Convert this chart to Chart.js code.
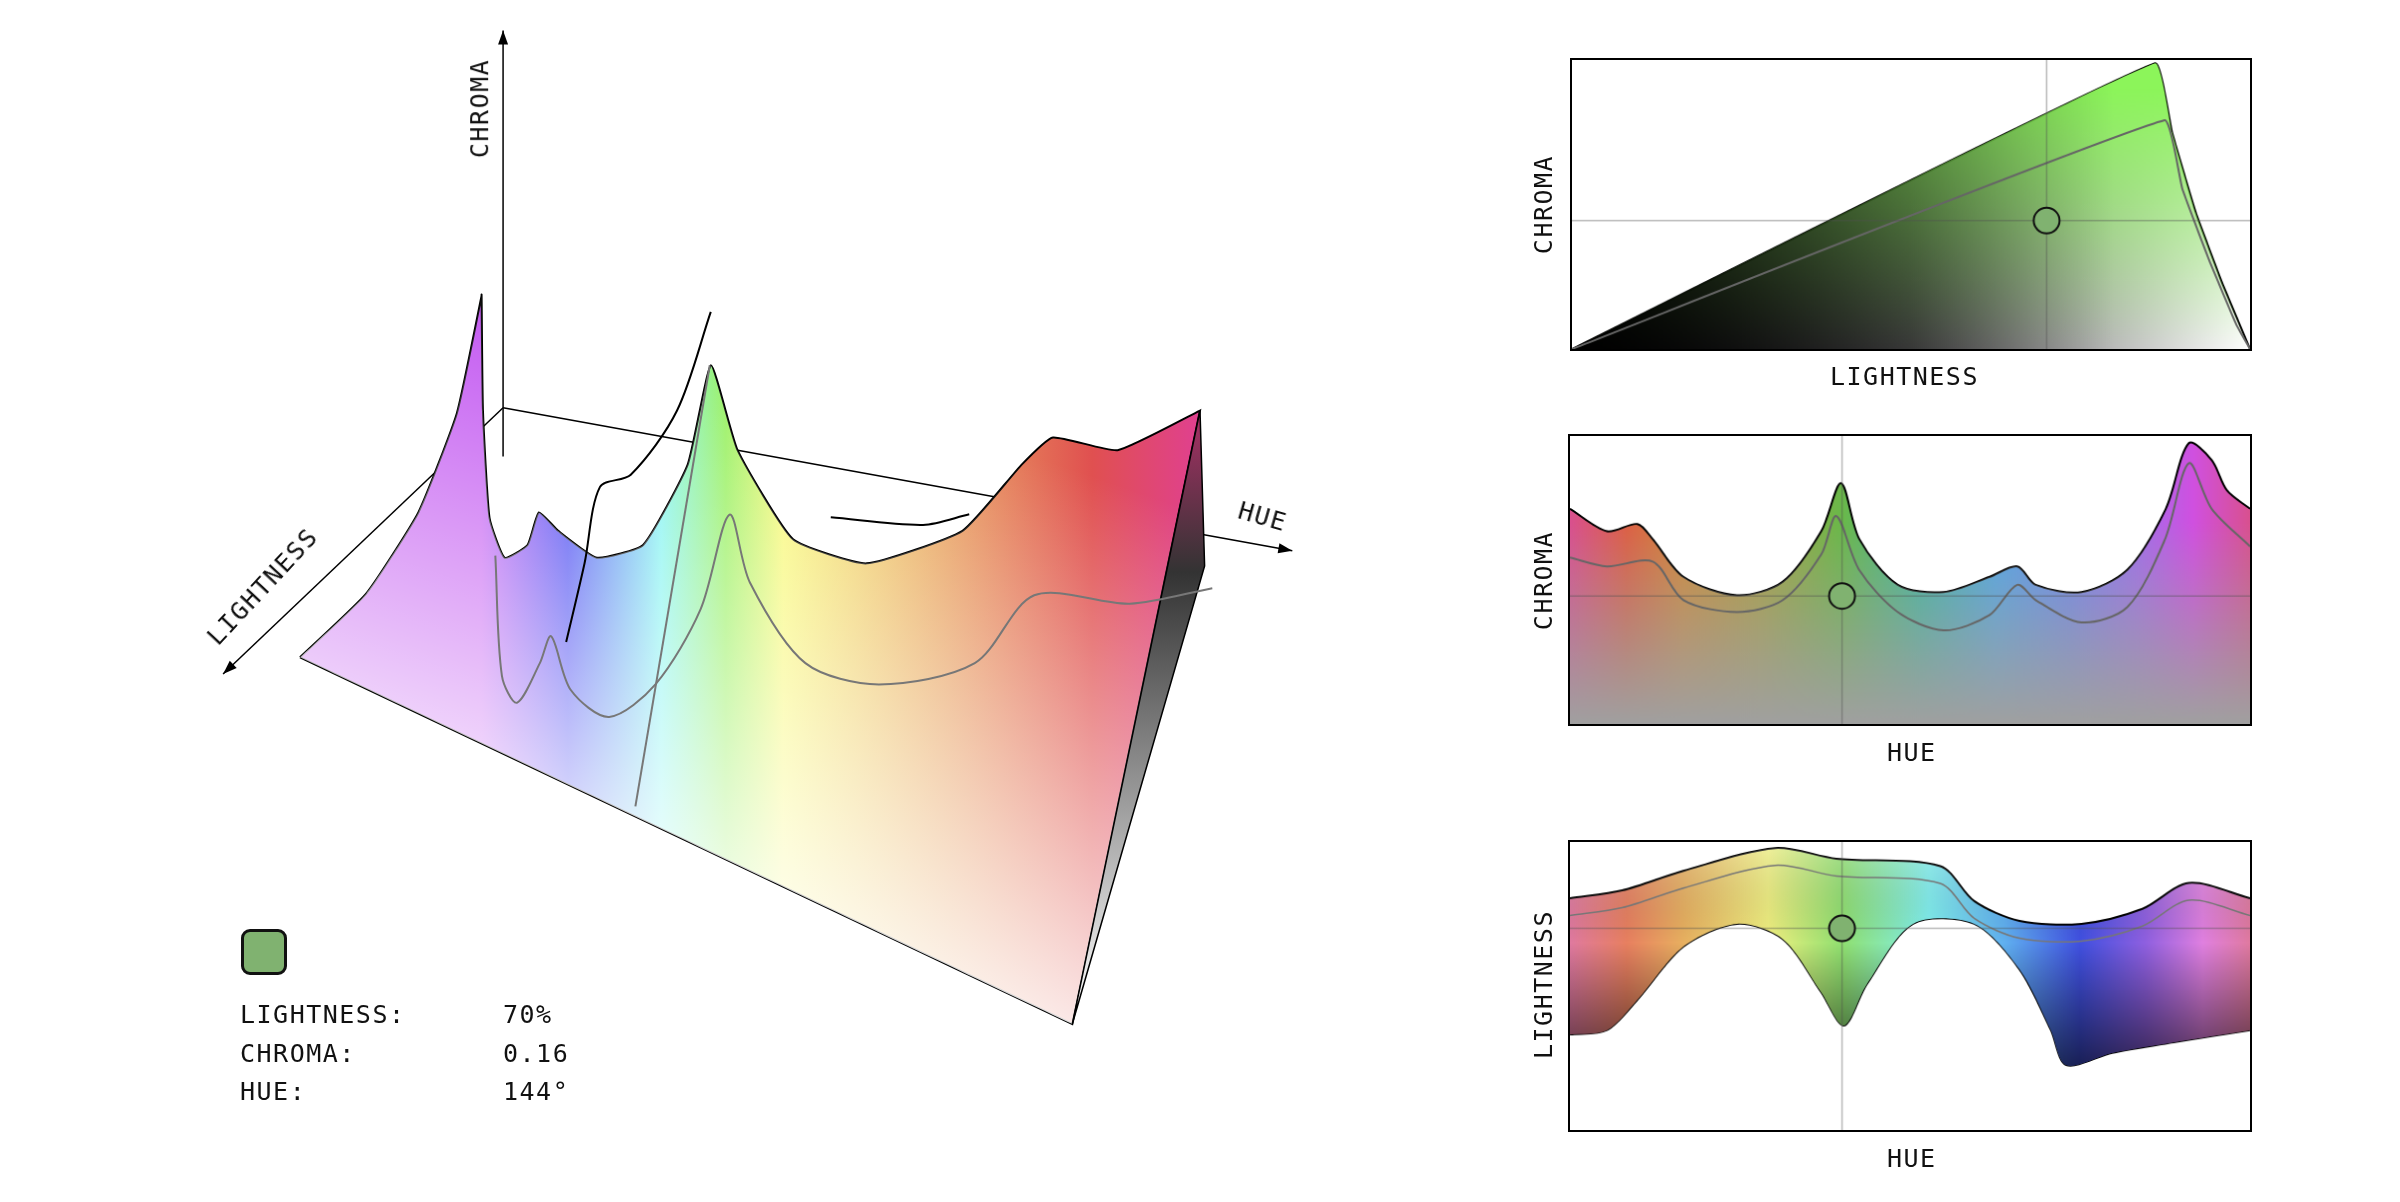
<!DOCTYPE html>
<html><head><meta charset="utf-8">
<script src="https://cdn.jsdelivr.net/npm/chart.js@4"></script>
<style>
body{margin:0;background:#fff;width:2400px;height:1202px;overflow:hidden;position:relative;font-family:"DejaVu Sans Mono",monospace;}
canvas{position:absolute;}
.t{position:absolute;font-size:25px;letter-spacing:1.5px;color:#111;white-space:nowrap;transform-origin:center center;}
.box{border:2px solid #000;box-sizing:border-box;}
</style></head><body>
<canvas id="c3d" width="2400" height="1202" style="left:0;top:0"></canvas>
<canvas id="p1" class="box" width="682" height="293" style="left:1570px;top:58px"></canvas>
<canvas id="p2" class="box" width="684" height="292" style="left:1568px;top:434px"></canvas>
<canvas id="p3" class="box" width="684" height="292" style="left:1568px;top:840px"></canvas>
<div class="t" style="left:1830px;top:362px">LIGHTNESS</div>
<div class="t" style="left:1887px;top:738px">HUE</div>
<div class="t" style="left:1887px;top:1144px">HUE</div>
<div class="t" style="left:1494px;top:190px;transform:rotate(-90deg)">CHROMA</div>
<div class="t" style="left:1494px;top:566px;transform:rotate(-90deg)">CHROMA</div>
<div class="t" style="left:1469px;top:970px;transform:rotate(-90deg)">LIGHTNESS</div>
<div class="t" style="left:430px;top:94px;transform:rotate(-90deg)">CHROMA</div>
<div class="t" style="left:188px;top:572px;transform:rotate(-47deg)">LIGHTNESS</div>
<div class="t" style="left:1238px;top:502px;transform:rotate(16deg)">HUE</div>
<div style="position:absolute;left:241px;top:929px;width:46px;height:46px;border:3px solid #111;border-radius:9px;background:#80b270;box-sizing:border-box"></div>
<div class="t" style="left:240px;top:1000px">LIGHTNESS:</div>
<div class="t" style="left:240px;top:1039px">CHROMA:</div>
<div class="t" style="left:240px;top:1077px">HUE:</div>
<div class="t" id="vL" style="left:503px;top:1000px"></div>
<div class="t" id="vC" style="left:503px;top:1039px"></div>
<div class="t" id="vH" style="left:503px;top:1077px"></div>
<script>
// ---- data ----
const selLightness = 0.70, selChroma = 0.16, selHue = 144;
const maxHue    = [0,19.5,35.7,43.8,60,88.4,112.7,133,143.5,153.2,173.5,197.8,222.2,236.8,246.5,270.8,295.1,315.4,327.6,339.7,347.8,360];
const maxChroma = [0.269,0.241,0.250,0.231,0.184,0.161,0.178,0.241,0.301,0.231,0.174,0.165,0.184,0.197,0.174,0.165,0.193,0.269,0.351,0.330,0.292,0.269];
const sliceHue    = [0,19.5,43.8,60,88.4,112.7,133,141,153,173.5,197.8,222,236.8,246.5,270.8,295,315,327.6,339.7,360];
const sliceChroma = [0.208,0.197,0.203,0.155,0.140,0.155,0.212,0.260,0.193,0.140,0.117,0.136,0.174,0.155,0.127,0.146,0.231,0.326,0.269,0.222];
const upHue   = [0,27.6,60,108.6,141,196,214,238,270.8,303,327.6,360];
const upL     = [0.805,0.832,0.90,0.979,0.942,0.916,0.795,0.726,0.716,0.768,0.858,0.805];
const lowHue  = [0,19.5,35.7,60,88.4,112.7,133,145,157,181.6,214,238,254.6,262.7,287,319.5,360];
const lowL    = [0.332,0.347,0.453,0.637,0.716,0.663,0.479,0.363,0.505,0.716,0.716,0.558,0.347,0.226,0.268,0.305,0.347];
const gamutL = [0,0.86,0.885,0.92,0.96,1];
const gamutC = [0,0.356,0.27,0.17,0.08,0];
const innerL = [0,0.874,0.9,0.94,0.98,1];
const innerC = [0,0.285,0.2,0.11,0.03,0];
const chromaMax = 0.36;

document.getElementById('vL').textContent = Math.round(selLightness*100)+'%';
document.getElementById('vC').textContent = selChroma.toFixed(2);
document.getElementById('vH').textContent = selHue+'°';

const pts=(xs,ys)=>xs.map((x,i)=>({x,y:ys[i]}));
function grad(chart,x0,y0,x1,y1,stops){
  const {ctx,chartArea}=chart; if(!chartArea) return 'transparent';
  const g=ctx.createLinearGradient(x0,y0,x1,y1); stops.forEach(s=>g.addColorStop(s[0],s[1])); return g;
}
const hueStops2=[[0,'#d9508f'],[30/360,'#dd6045'],[60/360,'#d08a3a'],[100/360,'#aaa040'],[144/360,'#6ab84a'],[185/360,'#40b8a0'],[225/360,'#50a8e8'],[265/360,'#7088f0'],[300/360,'#a070ea'],[330/360,'#d050e0'],[1,'#d9508f']];
const hueStops3=[[0,'#e07aa0'],[30/360,'#e88060'],[60/360,'#e8b060'],[105/360,'#f0f080'],[144/360,'#90e070'],[190/360,'#80f0f0'],[230/360,'#60b0f0'],[270/360,'#4050e0'],[305/360,'#9060e0'],[335/360,'#e080e0'],[1,'#e07aa0']];
const base={responsive:false,devicePixelRatio:1,animation:false,events:[],
  layout:{padding:0,autoPadding:false},plugins:{legend:{display:false},tooltip:{enabled:false}},elements:{point:{radius:0},line:{tension:0.3}}};
const hid=(min,max,rev)=>({type:'linear',display:false,min,max,reverse:!!rev});
const line=(data,color,w,extra)=>Object.assign({data,showLine:true,borderColor:color,borderWidth:w,fill:false,pointRadius:0,clip:false},extra||{});
const marker=(x,y)=>({data:[{x,y}],showLine:false,pointRadius:13,backgroundColor:'#80b270',borderColor:'#111',borderWidth:2,order:0});
const cross=(xr,yr,x,y)=>[line([{x,y:yr[0]},{x,y:yr[1]}],'rgba(80,80,80,0.4)',1.5,{tension:0,order:1}),line([{x:xr[0],y},{x:xr[1],y}],'rgba(80,80,80,0.4)',1.5,{tension:0,order:1})];

// Panel 1: chroma vs lightness at selected hue
new Chart(document.getElementById('p1'),{type:'scatter',data:{datasets:[
  line(pts(gamutL,gamutC),'#000',2,{tension:0.1,order:6,fill:'origin',backgroundColor:c=>grad(c.chart,0,0,c.chart.width,0,[[0,'#000'],[0.5,'#555'],[1,'#fff']])}),
  line(pts(gamutL,gamutC),'rgba(0,0,0,0)',0,{tension:0.1,order:5,fill:'origin',backgroundColor:c=>grad(c.chart,0,c.chart.height,0,c.chart.height*0.1,[[0,'rgba(140,245,90,0)'],[1,'rgba(140,245,90,1)']])}),
  line(pts(gamutL,gamutC),'rgba(0,0,0,0)',0,{tension:0.1,order:4,fill:'origin',backgroundColor:c=>grad(c.chart,0,0,c.chart.width*0.8,0,[[0,'rgba(0,0,0,0.9)'],[0.5,'rgba(0,0,0,0.45)'],[1,'rgba(0,0,0,0)']])}),
  line(pts(innerL,innerC),'#666',2,{tension:0.1,order:2}),
  ...cross([0,1],[0,chromaMax],selLightness,selChroma),
  marker(selLightness,selChroma)
]},options:Object.assign({},base,{scales:{x:hid(0,1),y:hid(0,chromaMax)}})});

// Panel 2: max chroma vs hue
new Chart(document.getElementById('p2'),{type:'scatter',data:{datasets:[
  line(pts(maxHue,maxChroma),'#000',2,{order:4,fill:'origin',backgroundColor:c=>grad(c.chart,0,0,c.chart.width,0,hueStops2)}),
  line(pts(maxHue,maxChroma),'rgba(0,0,0,0)',0,{order:3,fill:'origin',backgroundColor:c=>grad(c.chart,0,c.chart.height*0.3,0,c.chart.height,[[0,'rgba(160,160,160,0)'],[1,'rgba(160,160,160,1)']])}),
  line(pts(sliceHue,sliceChroma),'#666',2,{order:2}),
  ...cross([0,360],[0,chromaMax],selHue,selChroma),
  marker(selHue,selChroma)
]},options:Object.assign({},base,{scales:{x:hid(0,360),y:hid(0,chromaMax)}})});

// Panel 3: lightness band vs hue
new Chart(document.getElementById('p3'),{type:'scatter',data:{datasets:[
  line(pts(upHue,upL),'#000',2,{order:5,fill:'+1',backgroundColor:c=>grad(c.chart,0,0,c.chart.width,0,hueStops3)}),
  line(pts(lowHue,lowL),'#000',2,{order:5}),
  line(pts(upHue,upL),'rgba(0,0,0,0)',0,{order:4,fill:'+1',backgroundColor:c=>grad(c.chart,0,0,0,c.chart.height,[[0,'rgba(255,255,255,0.25)'],[0.35,'rgba(0,0,0,0)'],[0.8,'rgba(0,0,0,0.65)'],[1,'rgba(0,0,0,0.85)']])}),
  line(pts(lowHue,lowL),'rgba(0,0,0,0)',0,{order:4}),
  line(pts(upHue,upL.map(v=>v-0.06)),'#777',1.5,{order:2}),
  ...cross([0,360],[0,1],selHue,selLightness),
  marker(selHue,selLightness)
]},options:Object.assign({},base,{scales:{x:hid(0,360),y:hid(0,1)}})});

// 3D view (projected in a 1560x790 view space)
const u=h=>Math.pow(Math.max(0,(330-h)/330),2);
const px=h=>313+u(h)*467, py=c=>520-930*c;
const topCurve=maxHue.map((h,i)=>({h,c:maxChroma[i]})).filter(p=>p.h<=330).reverse().map(p=>({x:px(p.h),y:py(p.c)}));
topCurve.unshift({x:px(330),y:py(0.35)});
const sliceCurve=sliceHue.map((h,i)=>({h,c:sliceChroma[i]})).filter(p=>p.h<=320).reverse().map(p=>({x:px(p.h)+8,y:py(p.c)+60}));
const A={x:195,y:432},B={x:697,y:673};
const T=topCurve[0], R=topCurve[topCurve.length-1];
const leftEdge=[0,0.25,0.5,0.75,1].map(t=>({x:(1-t)*(1-t)*A.x+2*t*(1-t)*290+t*t*T.x,y:(1-t)*(1-t)*A.y+2*t*(1-t)*360+t*t*T.y}));
const surface=[A,...leftEdge,...topCurve.slice(1),R,B,B,A,A];
const origin={x:327,y:268};
const hue3=[[0,'#c050f0'],[0.12,'#3a3af0'],[0.25,'#80f4f0'],[0.34,'#98f060'],[0.42,'#f8f878'],[0.65,'#e8a060'],[0.85,'#e05050'],[1,'#e04090']];
const sx=c=>c.chart.scales.x, sy=c=>c.chart.scales.y;
new Chart(document.getElementById('c3d'),{type:'scatter',data:{datasets:[
  line([origin,{x:840,y:362}],'#000',1.5,{tension:0,order:9}),
  line([{x:origin.x,y:300},{x:origin.x,y:20}],'#000',1.5,{tension:0,order:9}),
  line([origin,{x:145,y:443}],'#000',1.5,{tension:0,order:9}),
  line(surface,'#000',2,{tension:0.15,order:8,fill:'shape',backgroundColor:c=>{const X=sx(c);if(!X)return'transparent';return grad(c.chart,X.getPixelForValue(313),0,X.getPixelForValue(780),0,hue3);}}),
  line(surface,'rgba(0,0,0,0)',0,{tension:0.15,order:7,fill:'shape',backgroundColor:c=>{const X=sx(c),Y=sy(c);if(!X)return'transparent';return grad(c.chart,X.getPixelForValue(560),Y.getPixelForValue(260),X.getPixelForValue(430),Y.getPixelForValue(640),[[0,'rgba(255,255,255,0)'],[0.35,'rgba(255,255,255,0.35)'],[1,'rgba(255,255,255,1)']]);}}),
  line([R,{x:783,y:372},B,R],'#000',1.5,{tension:0,order:6,fill:'shape',backgroundColor:c=>{const Y=sy(c);if(!Y)return'transparent';return grad(c.chart,0,Y.getPixelForValue(250),0,Y.getPixelForValue(670),[[0,'#c03070'],[0.3,'#333'],[1,'#fff']]);}}),
  line([{x:px(144),y:py(0.301)},{x:413,y:530}],'#777',2,{tension:0,order:5}),
  line(sliceCurve,'#777',2,{order:5}),
  line([{x:368,y:422},{x:380,y:370},{x:390,y:320},{x:410,y:312},{x:440,y:270},{x:462,y:205}],'#000',2,{order:5}),
  line([{x:540,y:340},{x:600,y:345},{x:630,y:338}],'#000',2,{order:5})
]},options:Object.assign({},base,{scales:{x:hid(0,1560),y:hid(0,790,true)}}),
plugins:[{id:'arrows',afterDraw(ch){const X=ch.scales.x,Y=ch.scales.y,ctx=ch.ctx;
  const arr=(a,b)=>{const x1=X.getPixelForValue(a.x),y1=Y.getPixelForValue(a.y),x2=X.getPixelForValue(b.x),y2=Y.getPixelForValue(b.y);const an=Math.atan2(y2-y1,x2-x1);ctx.save();ctx.translate(x2,y2);ctx.rotate(an);ctx.fillStyle='#000';ctx.beginPath();ctx.moveTo(0,0);ctx.lineTo(-14,-5);ctx.lineTo(-14,5);ctx.closePath();ctx.fill();ctx.restore();};
  arr(origin,{x:840,y:362});arr({x:origin.x,y:300},{x:origin.x,y:20});arr(origin,{x:145,y:443});}}]});
</script></body></html>
